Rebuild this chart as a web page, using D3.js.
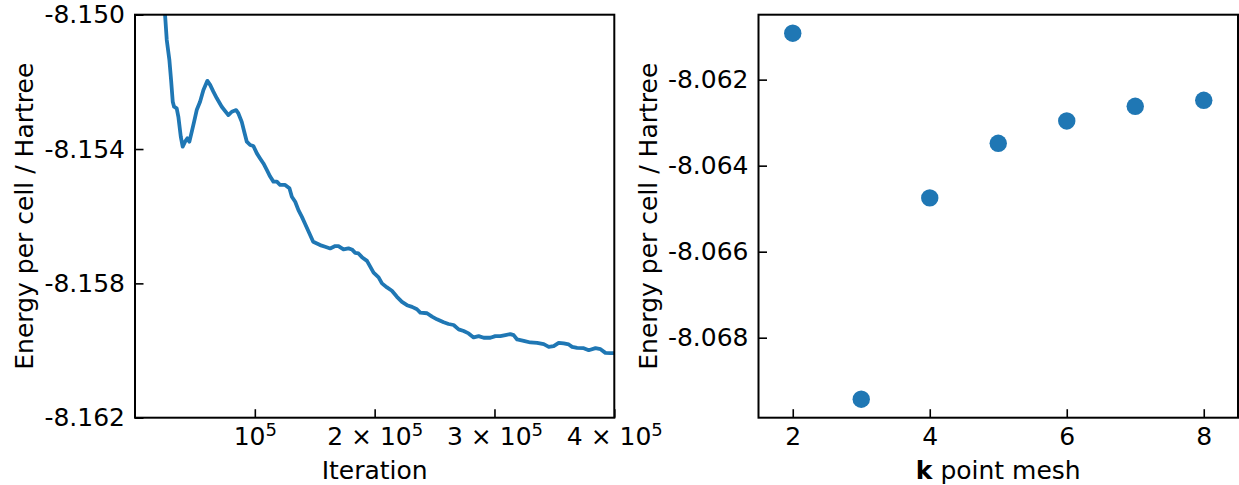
<!DOCTYPE html>
<html>
<head>
<meta charset="utf-8">
<script src="https://cdn.jsdelivr.net/npm/d3@7"></script>
<style>
    body { margin: 0; background: #fff; }
    svg text { font-family: "DejaVu Sans", sans-serif; fill: #000; }
</style>
</head>
<body>
<svg id="chart" width="1239" height="485"></svg>
<script>
// Left panel: energy vs iteration
const iterations = [
    22000, 25100, 26500, 28700, 30100, 31500, 32600, 34800, 36200, 38200,
    39800, 41800, 43700, 45400, 47400, 49300, 51500, 54300, 57100, 60400,
    62700, 65400, 68300, 72400, 77900, 80800, 84400, 86300, 89100, 91100,
    93300, 96100, 98800, 101700, 104400, 107200, 110000, 112800, 115500, 118400,
    121100, 125300, 128900, 130900, 133700, 136400, 139300, 142000, 145400, 148700,
    154500, 158700, 162900, 167100, 169800, 174000, 178200, 181000, 183800, 186500,
    189400, 193600, 196300, 199100, 203300, 206100, 210300, 214400, 218600, 222800,
    227000, 231200, 235300, 238100, 243700, 247900, 252000, 257600, 261700, 265900,
    270100, 274300, 278400, 282600, 286800, 291000, 296600, 300700, 304900, 309100,
    313300, 316000, 318900, 324400, 330000, 335600, 341100, 345300, 349400, 353600,
    357800, 362000, 364800, 369000, 374500, 378700, 384300, 388500, 392600, 396800,
    400000
];
const energies = [
    -8.14940, -8.15001, -8.15075, -8.15135, -8.15194, -8.15259, -8.15274, -8.15279, -8.15304, -8.15363,
    -8.15393, -8.15378, -8.15368, -8.15378, -8.15348, -8.15319, -8.15284, -8.15259, -8.15224, -8.15197,
    -8.15209, -8.15229, -8.15249, -8.15274, -8.15299, -8.15289, -8.15284, -8.15294, -8.15319, -8.15348,
    -8.15378, -8.15388, -8.15391, -8.15413, -8.15428, -8.15443, -8.15462, -8.15482, -8.15497, -8.15497,
    -8.15507, -8.15507, -8.15517, -8.15542, -8.15557, -8.15582, -8.15602, -8.15623, -8.15650, -8.15676,
    -8.15686, -8.15691, -8.15696, -8.15689, -8.15689, -8.15699, -8.15696, -8.15699, -8.15709, -8.15711,
    -8.15722, -8.15733, -8.15750, -8.15768, -8.15782, -8.15800, -8.15812, -8.15822, -8.15840, -8.15855,
    -8.15865, -8.15870, -8.15877, -8.15887, -8.15889, -8.15899, -8.15907, -8.15916, -8.15921, -8.15924,
    -8.15937, -8.15942, -8.15949, -8.15961, -8.15957, -8.15962, -8.15962, -8.15957, -8.15957, -8.15954,
    -8.15951, -8.15954, -8.15967, -8.15971, -8.15976, -8.15977, -8.15981, -8.15989, -8.15987, -8.15977,
    -8.15979, -8.15982, -8.15989, -8.15992, -8.15993, -8.15999, -8.15993, -8.15996, -8.16007, -8.16008,
    -8.16008
];
const iterTicks = [1e5, 2e5, 3e5, 4e5];
const iterTickMantissa = ["", "2", "3", "4"];
const energyTicks = [-8.150, -8.154, -8.158, -8.162];

// Right panel: energy vs k point mesh
const kMesh = [2, 3, 4, 5, 6, 7, 8];
const kEnergies = [-8.06092, -8.06943, -8.06475, -8.06348, -8.06296, -8.06262, -8.06248];
const kTicks = [2, 4, 6, 8];
const kEnergyTicks = [-8.062, -8.064, -8.066, -8.068];

const svg = d3.select('#chart');
const blue = '#1f77b4';
const fontSize = 25;
const tickLen = 8.5;

const plotTop = 14.7, plotBottom = 417.7;
const leftBox = { x0: 135, x1: 614.3 };
const rightBox = { x0: 758.5, x1: 1238 };

function styleAxis(g) {
    g.select('.domain').remove();
    g.selectAll('.tick line').attr('stroke', '#000').attr('stroke-width', 1.6);
    g.selectAll('.tick text').style('font-size', fontSize + 'px').attr('fill', '#000');
}

function drawFrame(box) {
    svg.append('rect')
        .attr('x', box.x0).attr('y', plotTop)
        .attr('width', box.x1 - box.x0).attr('height', plotBottom - plotTop)
        .attr('fill', 'none').attr('stroke', '#000').attr('stroke-width', 2);
}

function yLabel(x) {
    svg.append('text')
        .attr('transform', `translate(${x},${(plotTop + plotBottom) / 2}) rotate(-90)`)
        .attr('text-anchor', 'middle')
        .style('font-size', fontSize + 'px')
        .text('Energy per cell / Hartree');
}

// ---------- left panel ----------
const xLeft = d3.scaleLinear().domain([0, 4e5]).range([leftBox.x0, leftBox.x1]);
const yLeft = d3.scaleLinear().domain([-8.162, -8.150]).range([plotBottom, plotTop]);

svg.append('clipPath').attr('id', 'clipLeft')
    .append('rect')
    .attr('x', leftBox.x0).attr('y', plotTop)
    .attr('width', leftBox.x1 - leftBox.x0).attr('height', plotBottom - plotTop);

const line = d3.line()
    .x((d, i) => xLeft(iterations[i]))
    .y(d => yLeft(d));

svg.append('path')
    .datum(energies)
    .attr('clip-path', 'url(#clipLeft)')
    .attr('fill', 'none')
    .attr('stroke', blue)
    .attr('stroke-width', 3.8)
    .attr('stroke-linejoin', 'round')
    .attr('d', line);

const gxl = svg.append('g')
    .attr('transform', `translate(0,${plotBottom})`)
    .call(d3.axisBottom(xLeft).tickValues(iterTicks).tickSize(-tickLen).tickPadding(10).tickFormat(() => ''));
styleAxis(gxl);
gxl.selectAll('.tick text').each(function (d, i) {
    const t = d3.select(this);
    const m = iterTickMantissa[i];
    t.text(m ? m + ' \u00d7 10' : '10');
    t.append('tspan').attr('dy', '-0.5em').style('font-size', '0.72em').text('5');
});

const gyl = svg.append('g')
    .attr('transform', `translate(${leftBox.x0},0)`)
    .call(d3.axisLeft(yLeft).tickValues(energyTicks).tickSize(-tickLen).tickPadding(10).tickFormat(d3.format('.3f')));
styleAxis(gyl);
gyl.selectAll('.tick text').text(d => d3.format('.3f')(d).replace('\u2212', '-'));

drawFrame(leftBox);
yLabel(33);
svg.append('text')
    .attr('x', (leftBox.x0 + leftBox.x1) / 2).attr('y', 479)
    .attr('text-anchor', 'middle')
    .style('font-size', fontSize + 'px')
    .text('Iteration');

// ---------- right panel ----------
const xRight = d3.scaleLinear().domain([1.5, 8.5]).range([rightBox.x0, rightBox.x1]);
const yRight = d3.scaleLinear().domain([-8.06986, -8.06049]).range([plotBottom, plotTop]);

svg.append('g').selectAll('circle')
    .data(kEnergies)
    .enter().append('circle')
    .attr('cx', (d, i) => xRight(kMesh[i]))
    .attr('cy', d => yRight(d))
    .attr('r', 8.7)
    .attr('fill', blue);

const gxr = svg.append('g')
    .attr('transform', `translate(0,${plotBottom})`)
    .call(d3.axisBottom(xRight).tickValues(kTicks).tickSize(-tickLen).tickPadding(10).tickFormat(d3.format('d')));
styleAxis(gxr);

const gyr = svg.append('g')
    .attr('transform', `translate(${rightBox.x0},0)`)
    .call(d3.axisLeft(yRight).tickValues(kEnergyTicks).tickSize(-tickLen).tickPadding(10).tickFormat(d3.format('.3f')));
styleAxis(gyr);
gyr.selectAll('.tick text').text(d => d3.format('.3f')(d).replace('\u2212', '-'));

drawFrame(rightBox);
yLabel(657);
const kl = svg.append('text')
    .attr('x', (rightBox.x0 + rightBox.x1) / 2).attr('y', 479)
    .attr('text-anchor', 'middle')
    .style('font-size', fontSize + 'px');
kl.append('tspan').style('font-weight', 'bold').text('k');
kl.append('tspan').text(' point mesh');
</script>
</body>
</html>
